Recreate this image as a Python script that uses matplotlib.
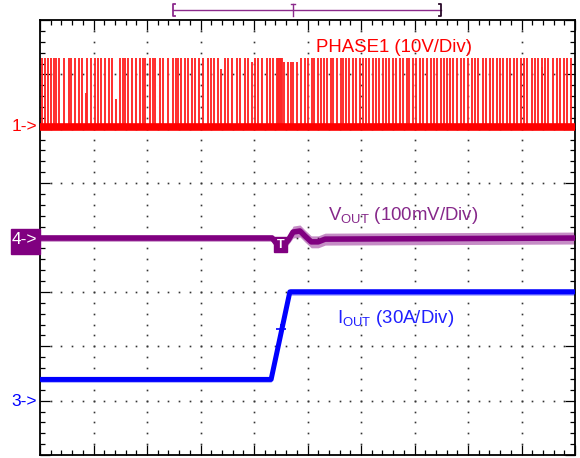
import numpy as np
import matplotlib
matplotlib.use("Agg")
from matplotlib import pyplot as plt
from matplotlib.patches import Rectangle

plt.rcParams["font.family"] = ["Liberation Sans", "DejaVu Sans"]
plt.rcParams["mathtext.fontset"] = "custom"
plt.rcParams["mathtext.rm"] = "Liberation Sans"

# all positions in scope divisions (10 x 8 grid, 0 at left / bottom)

# PHASE1 switch node pulses (full height)
phase_t = [0.037, 0.099, 0.150, 0.211, 0.256, 0.305, 0.361, 0.449, 0.536, 0.585,
           0.649, 0.723, 0.791, 0.884, 0.948, 1.022, 1.084, 1.146, 1.209, 1.284,
           1.346, 1.501, 1.557, 1.594, 1.645, 1.725, 1.800, 1.864, 1.925, 1.968,
           2.062, 2.112, 2.155, 2.237, 2.305, 2.393, 2.486, 2.536, 2.585, 2.636,
           2.710, 2.761, 2.836, 2.897, 2.972, 3.052, 3.135, 3.196, 3.258, 3.321,
           3.458, 3.520, 3.583, 3.677, 3.738, 3.832, 3.893, 4.019, 4.080, 4.155,
           4.237, 4.299, 4.361, 4.430, 4.445, 4.460, 4.475, 4.490, 4.505, 4.520,
           4.879, 4.953, 5.015, 5.079, 5.127, 5.202, 5.252, 5.308, 5.359, 5.434,
           5.482, 5.546, 5.621, 5.669, 5.720, 5.781, 5.845, 5.907, 5.981, 6.043,
           6.093, 6.155, 6.219, 6.280, 6.342, 6.406, 6.467, 6.529, 6.593, 6.654,
           6.729, 6.779, 6.854, 6.903, 6.966, 7.028, 7.103, 7.164, 7.228, 7.303,
           7.364, 7.426, 7.490, 7.551, 7.613, 7.664, 7.725, 7.800, 7.864, 7.925,
           8.006, 8.069, 8.131, 8.193, 8.275, 8.336, 8.411, 8.473, 8.536, 8.598,
           8.660, 8.723, 8.785, 8.860, 8.921, 8.985, 9.047, 9.108, 9.191, 9.252,
           9.314, 9.377, 9.439, 9.501, 9.583, 9.658, 9.720, 9.794, 9.856, 9.920]
phase_top = 7.30
# pulses right after the load step and a few lower ones
phase_low_t = [3.378, 3.957, 4.566, 4.630, 4.686, 4.735, 4.798, 9.377]
phase_low_top = [7.10, 7.22, 7.22, 7.22, 7.22, 7.22, 7.22, 7.13]
# runt pulses
runt_t = [0.854, 1.421]
runt_top = [6.65, 6.55]
phase_base = 6.04

# VOUT trace (ch4)
vout_t = [0, 4.34, 4.41, 4.54, 4.64, 4.73, 4.86, 4.95, 5.07, 5.20, 5.33, 10]
vout_v = [3.99, 3.99, 3.90, 3.84, 3.95, 4.10, 4.12, 4.03, 3.92, 3.92, 3.97, 3.99]
vout_noise = [0.06, 0.06, 0.06, 0.06, 0.08, 0.11, 0.11, 0.11, 0.11, 0.11, 0.11, 0.11]

# IOUT trace (ch3)
iout_t = [0, 4.32, 4.67, 10]
iout_v = [1.39, 1.39, 3.00, 3.00]
iout_noise = [0.05, 0.05, 0.06, 0.06]

RED = "#ff0000"
PURPLE = "#800080"
BLUE = "#0000ff"

fig = plt.figure(figsize=(5.8, 4.58), dpi=100)
ax = fig.add_axes([40 / 580, 3 / 458, 535 / 580, 435 / 458])
ax.set_xlim(0, 10)
ax.set_ylim(0, 8)

# frame and ticks
for s in ax.spines.values():
    s.set_linewidth(1.3)
ax.set_xticks(np.arange(0, 11, 1))
ax.set_yticks(np.arange(0, 9, 1))
ax.set_xticks(np.arange(0, 10.01, 0.2), minor=True)
ax.set_yticks(np.arange(0, 8.01, 0.2), minor=True)
ax.tick_params(which="both", direction="in", top=True, right=True,
               labelbottom=False, labelleft=False, width=0.9)
ax.tick_params(which="major", length=7.5)
ax.tick_params(which="minor", length=3.5)

# dotted graticule
gx, gy = [], []
for yy in range(1, 8):
    xs = np.arange(0.2, 10, 0.2)
    gx += list(xs)
    gy += [yy] * len(xs)
for xx in range(1, 10):
    ys = np.arange(0.2, 8, 0.2)
    gx += [xx] * len(ys)
    gy += list(ys)
ax.plot(gx, gy, ls="none", marker="s", ms=1.2, mew=0, color="#333333", zorder=1)

# PHASE1
pc = "#ff2626"
ax.vlines(phase_t, phase_base, phase_top, colors=pc, lw=1.35, zorder=2)
ax.vlines(phase_low_t, phase_base, phase_low_top, colors=pc, lw=1.35, zorder=2)
ax.vlines(runt_t, phase_base, runt_top, colors=pc, lw=1.35, zorder=2)
ax.plot([0, 10], [phase_base, phase_base], color=RED, lw=5.5,
        solid_capstyle="butt", zorder=3)

# VOUT
vt = np.array(vout_t)
vv = np.array(vout_v)
vn = np.array(vout_noise)
ax.fill_between(vt, vv - vn, vv + vn, color=PURPLE, alpha=0.45, lw=0, zorder=2)
ax.plot(vt, vv, color=PURPLE, lw=4.0, zorder=3)

# IOUT
it = np.array(iout_t)
iv = np.array(iout_v)
inz = np.array(iout_noise)
ax.fill_between(it, iv - inz, iv + inz, color=BLUE, alpha=0.45, lw=0, zorder=2)
ax.plot(it, iv, color=BLUE, lw=3.6, zorder=3)
ax.plot([4.505], [2.32], marker="+", ms=7, mew=1.2, color=BLUE, zorder=4)

# trigger marker on VOUT
ax.add_patch(Rectangle((4.37, 3.73), 0.25, 0.28, color=PURPLE, zorder=4))
ax.text(4.495, 3.86, "T", color="white", fontsize=9, fontweight="bold",
        ha="center", va="center", zorder=5)

# channel labels
fs = 13.4
ax.text(5.16, 7.41, "PHASE1 (10V/Div)", color=RED, fontsize=fs, va="baseline", zorder=5)
ax.text(5.38, 4.32, r"V$_{\mathrm{OUT}}$ (100mV/Div)", color="#86288a", fontsize=fs,
        va="baseline", zorder=5)
ax.text(5.55, 2.42, r"I$_{\mathrm{OUT}}$ (30A/Div)", color="#1f1fff", fontsize=fs,
        va="baseline", zorder=5)

# ground markers at the left
ax.text(-0.05, phase_base, "1->", color=RED, fontsize=12.5, ha="right",
        va="center", clip_on=False)
ax.add_patch(Rectangle((-0.542, 3.70), 0.542, 0.45, color=PURPLE, clip_on=False, zorder=4))
ax.text(-0.05, 3.97, "4->", color="white", fontsize=12.5, ha="right", va="center",
        clip_on=False, zorder=5)
ax.text(-0.05, 0.99, "3->", color=BLUE, fontsize=12.5, ha="right",
        va="center", clip_on=False)

# record position indicator above the graticule
BR = "#8c2a8c"
ax.plot([2.486, 7.495], [8.18, 8.18], color=BR, lw=1.0, clip_on=False)
ax.plot([2.52, 2.486, 2.486, 2.52], [8.29, 8.29, 8.07, 8.07], color=BR, lw=1.3,
        clip_on=False)
ax.plot([7.46, 7.495, 7.495, 7.46], [8.29, 8.29, 8.07, 8.07], color="#2a0a2a", lw=1.3,
        clip_on=False)
ax.plot([4.729, 4.729], [8.07, 8.29], color=BR, lw=1.0, clip_on=False)
ax.plot([4.70, 4.76], [8.29, 8.29], color=BR, lw=1.0, clip_on=False)

fig.savefig("out.png", dpi=100, facecolor="white")
